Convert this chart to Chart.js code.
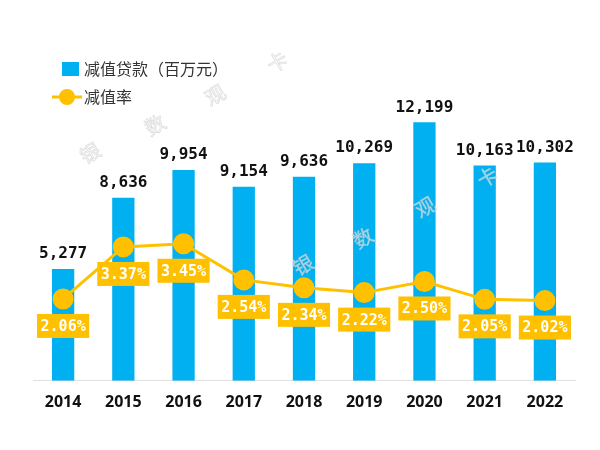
<!DOCTYPE html>
<html>
<head>
<meta charset="utf-8">
<script src="https://cdn.jsdelivr.net/npm/chart.js@4.4.0/dist/chart.umd.min.js"></script>
<style>
html,body{margin:0;padding:0;background:#fff;}
#wrap{width:600px;height:450px;}
</style>
</head>
<body>
<div id="wrap"><canvas id="c" width="600" height="450"></canvas></div>
<script>
const years = ['2014','2015','2016','2017','2018','2019','2020','2021','2022'];
const impairedLoans = [5277, 8636, 9954, 9154, 9636, 10269, 12199, 10163, 10302];
const impairedRatio = [2.06, 3.37, 3.45, 2.54, 2.34, 2.22, 2.50, 2.05, 2.02];
const seriesNames = ['减值贷款（百万元）', '减值率'];
const watermarkChars = ['银', '数', '观', '卡'];

const BLUE = '#00B0F0';
const GOLD = '#FFC000';

const labelPlugin = {
  id: 'labels',
  afterDatasetsDraw(chart) {
    const ctx = chart.ctx;
    ctx.save();
    const barMeta = chart.getDatasetMeta(0);
    ctx.font = 'bold 16px "DejaVu Sans Mono"';
    ctx.fillStyle = '#111';
    ctx.textAlign = 'center';
    ctx.textBaseline = 'middle';
    barMeta.data.forEach((el, i) => {
      ctx.fillText(impairedLoans[i].toLocaleString('en-US'), el.x, el.y - 15);
    });
    const lineMeta = chart.getDatasetMeta(1);
    ctx.font = 'bold 15px "DejaVu Sans Mono"';
    lineMeta.data.forEach((el, i) => {
      const txt = impairedRatio[i].toFixed(2) + '%';
      const w = ctx.measureText(txt).width + 7;
      const h = 24;
      const cy = el.y + 27;
      ctx.fillStyle = GOLD;
      ctx.fillRect(el.x - w / 2, cy - h / 2, w, h);
      ctx.fillStyle = '#fff';
      ctx.fillText(txt, el.x, cy + 1);
    });
    ctx.restore();
  },
  afterDraw(chart) {
    const ctx = chart.ctx;
    ctx.save();
    ctx.fillStyle = BLUE;
    ctx.fillRect(62, 62, 17, 14);
    ctx.font = '16px "Noto Sans CJK SC"';
    ctx.fillStyle = '#333';
    ctx.textAlign = 'left';
    ctx.textBaseline = 'middle';
    ctx.fillText(seriesNames[0], 84, 69);
    ctx.strokeStyle = GOLD;
    ctx.lineWidth = 3;
    ctx.beginPath();
    ctx.moveTo(52, 97);
    ctx.lineTo(82, 97);
    ctx.stroke();
    ctx.fillStyle = GOLD;
    ctx.beginPath();
    ctx.arc(67, 97, 8, 0, Math.PI * 2);
    ctx.fill();
    ctx.fillStyle = '#333';
    ctx.fillText(seriesNames[1], 84, 97);
    const spots = [[90,153],[155,125],[215,95],[277,62],[303,265],[363,238],[425,207],[487,177]];
    ctx.font = '20px "Noto Sans CJK SC"';
    ctx.textAlign = 'center';
    spots.forEach((p, i) => {
      ctx.save();
      ctx.translate(p[0], p[1]);
      ctx.rotate(-Math.PI / 6);
      ctx.fillStyle = 'rgba(255,255,255,0.6)';
      ctx.strokeStyle = 'rgba(190,190,190,0.5)';
      ctx.lineWidth = 0.8;
      ctx.fillText(watermarkChars[i % 4], 0, 0);
      ctx.strokeText(watermarkChars[i % 4], 0, 0);
      ctx.restore();
    });
    ctx.restore();
  }
};

new Chart(document.getElementById('c'), {
  data: {
    labels: years,
    datasets: [
      {
        type: 'bar',
        label: seriesNames[0],
        data: impairedLoans,
        backgroundColor: BLUE,
        yAxisID: 'y',
        order: 2,
        categoryPercentage: 1,
        barPercentage: 0.37
      },
      {
        type: 'line',
        label: seriesNames[1],
        data: impairedRatio,
        borderColor: GOLD,
        backgroundColor: GOLD,
        borderWidth: 3,
        pointRadius: 9,
        pointBackgroundColor: GOLD,
        pointBorderColor: GOLD,
        yAxisID: 'y2',
        order: 1,
        tension: 0
      }
    ]
  },
  options: {
    responsive: false,
    animation: false,
    layout: { padding: { left: 33, right: 25, top: 63, bottom: 26 } },
    plugins: { legend: { display: false }, tooltip: { enabled: false } },
    scales: {
      x: {
        offset: true,
        grid: { display: false, drawTicks: false },
        border: { display: true, color: '#e0e0e0', width: 1 },
        ticks: { color: '#111', font: { family: '"Noto Sans"', weight: 'bold', size: 16 }, padding: 12 }
      },
      y: { display: false, min: 0, max: 15000 },
      y2: { display: false, min: 0, max: 8 }
    }
  },
  plugins: [labelPlugin]
});
</script>
</body>
</html>
